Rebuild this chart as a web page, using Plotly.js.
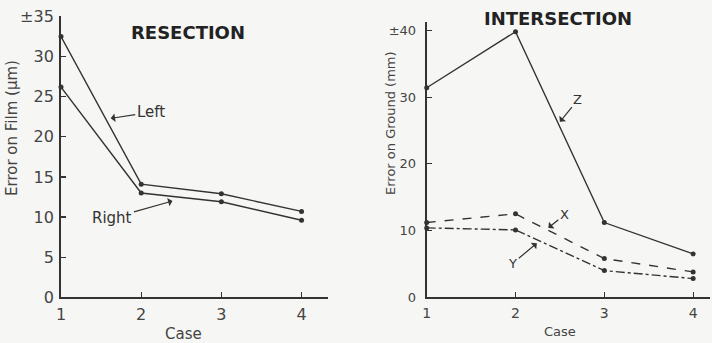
<!DOCTYPE html>
<html>
<head>
<meta charset="utf-8">
<script src="https://cdn.plot.ly/plotly-3.0.1.min.js"></script>
<style>html,body{margin:0;padding:0;background:#f6f6f4;}#chart{width:712px;height:343px;}</style>
</head>
<body>
<div id="chart"></div>
<script>
// Data
const cases = [1, 2, 3, 4];
const resectionLeft = [32.5, 14.1, 12.9, 10.7];
const resectionRight = [26.2, 13.0, 11.9, 9.6];
const intersectionZ = [31.4, 39.8, 11.2, 6.5];
const intersectionX = [11.2, 12.5, 5.8, 3.8];
const intersectionY = [10.4, 10.1, 4.0, 2.8];
const leftYTicks = [0, 5, 10, 15, 20, 25, 30, 35];
const leftYTickText = ["0", "5", "10", "15", "20", "25", "30", "±35"];
const rightYTicks = [0, 10, 20, 30, 40];
const rightYTickText = ["0", "10", "20", "30", "±40"];
const xTickText = ["1", "2", "3", "4"];

const ink = '#333333';
const font = 'DejaVu Sans, Arial, sans-serif';
function tr(x, y, xa, ya, dash) {
  return {x: x, y: y, xaxis: xa, yaxis: ya, mode: 'lines+markers', type: 'scatter',
    line: {color: ink, width: 1.4, dash: dash || 'solid'},
    marker: {color: ink, size: 5}, cliponaxis: false, showlegend: false, hoverinfo: 'none'};
}
const data = [
  tr(cases, resectionLeft, 'x', 'y'),
  tr(cases, resectionRight, 'x', 'y'),
  tr(cases, intersectionZ, 'x2', 'y2'),
  tr(cases, intersectionX, 'x2', 'y2', 'dash'),
  tr(cases, intersectionY, 'x2', 'y2', 'dashdot')
];
const axBase = {showgrid: false, zeroline: false, showline: true, linecolor: ink, linewidth: 2,
  ticks: 'inside', ticklen: 5, tickwidth: 1.2, tickcolor: ink, fixedrange: true};
function lab(text, x, y, size, extra) {
  return Object.assign({text: text, xref: 'paper', yref: 'paper', x: x / 712, y: 1 - y / 343,
    xanchor: 'center', yanchor: 'middle', showarrow: false,
    font: {size: size, color: '#444', family: font}}, extra || {});
}
const layout = {
  width: 712, height: 343,
  margin: {l: 0, r: 0, t: 0, b: 0},
  paper_bgcolor: '#f6f6f4', plot_bgcolor: 'rgba(0,0,0,0)',
  font: {family: font, color: '#444'},
  xaxis: Object.assign({}, axBase, {domain: [0.0857, 0.4607], range: [1, 4.33], anchor: 'y',
    tickvals: cases, ticktext: xTickText, tickfont: {size: 16, color: '#444'}, ticklabelstandoff: 2}),
  yaxis: Object.assign({}, axBase, {domain: [0.1333, 0.952], range: [0, 35], anchor: 'x',
    tickvals: leftYTicks, ticktext: leftYTickText, tickfont: {size: 16, color: '#444'}, ticklabelstandoff: 2}),
  xaxis2: Object.assign({}, axBase, {domain: [0.5993, 0.9972], range: [1, 4.19], anchor: 'y2',
    tickvals: cases, ticktext: xTickText, tickfont: {size: 14, color: '#444'}, ticklabelstandoff: 2}),
  yaxis2: Object.assign({}, axBase, {domain: [0.1333, 0.9367], range: [0, 41.3], anchor: 'x2',
    tickvals: rightYTicks, ticktext: rightYTickText, tickfont: {size: 13, color: '#444'}, ticklabelstandoff: 6}),
  annotations: [
    lab('<b>RESECTION</b>', 188, 32, 18, {font: {size: 18, color: '#222', family: font}}),
    lab('<b>INTERSECTION</b>', 558, 19, 18, {font: {size: 18, color: '#222', family: font}}),
    lab('Error on Film (μm)', 12, 128, 15, {textangle: -90}),
    lab('Error on Ground (mm)', 390, 123, 13, {textangle: -90}),
    lab('Case', 183, 334, 15),
    lab('Case', 560, 331, 13),
    {text: 'Left', xref: 'x', yref: 'y', x: 1.62, y: 22.3, ax: 40, ay: -6, showarrow: true,
      arrowhead: 1, arrowsize: 1.2, arrowwidth: 1.2, arrowcolor: ink, font: {size: 15, color: '#333', family: font}},
    {text: 'Right', xref: 'x', yref: 'y', x: 2.39, y: 12.0, ax: -60, ay: 17, showarrow: true,
      arrowhead: 1, arrowsize: 1.2, arrowwidth: 1.2, arrowcolor: ink, font: {size: 15, color: '#333', family: font}},
    {text: 'Z', xref: 'x2', yref: 'y2', x: 2.50, y: 26.3, ax: 18, ay: -22, showarrow: true,
      arrowhead: 1, arrowsize: 1.2, arrowwidth: 1.2, arrowcolor: ink, font: {size: 13, color: '#333', family: font}},
    {text: 'X', xref: 'x2', yref: 'y2', x: 2.37, y: 10.4, ax: 16, ay: -13, showarrow: true,
      arrowhead: 1, arrowsize: 1.2, arrowwidth: 1.2, arrowcolor: ink, font: {size: 13, color: '#333', family: font}},
    {text: 'Y', xref: 'x2', yref: 'y2', x: 2.24, y: 8.1, ax: -24, ay: 20, showarrow: true,
      arrowhead: 1, arrowsize: 1.2, arrowwidth: 1.2, arrowcolor: ink, font: {size: 13, color: '#333', family: font}}
  ]
};
Plotly.newPlot('chart', data, layout, {staticPlot: true, displayModeBar: false});
</script>
</body>
</html>
